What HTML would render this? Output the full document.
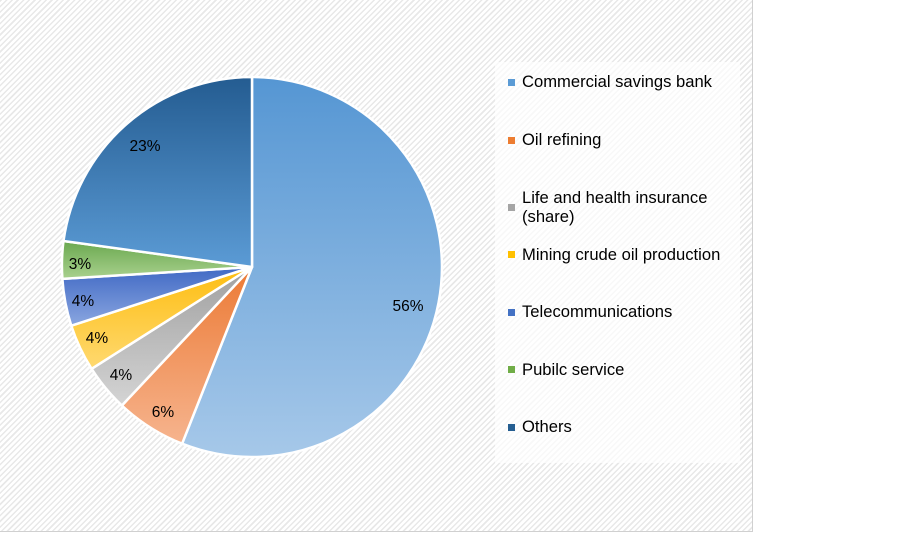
<!DOCTYPE html>
<html><head><style>
body{margin:0;background:#fff;}
#c{position:absolute;left:0;top:0;width:752px;height:531px;border-right:1px solid #d0d0d0;border-bottom:1px solid #d0d0d0;
background:repeating-linear-gradient(135deg,#e8e8e8 0 1.5px,#fff 1.5px 4px);}
.lg{position:absolute;left:495px;top:62px;width:245px;height:401px;background:rgba(255,255,255,0.7);}
.it{position:absolute;left:522px;font:16.6px "Liberation Sans",sans-serif;color:#000;line-height:19px;}
.m{position:absolute;left:508px;width:7px;height:7px;}
</style></head><body>
<div id="c"></div>
<svg width="903" height="533" style="position:absolute;left:0;top:0">
<defs>
<linearGradient id="g1" x1="0" y1="0" x2="0" y2="1"><stop offset="0" stop-color="#5596d3"/><stop offset="1" stop-color="#a6c8e9"/></linearGradient>
<linearGradient id="g2" x1="0" y1="0" x2="0" y2="1"><stop offset="0" stop-color="#ec7a35"/><stop offset="1" stop-color="#f6b48e"/></linearGradient>
<linearGradient id="g3" x1="0" y1="0" x2="0" y2="1"><stop offset="0" stop-color="#a0a0a0"/><stop offset="1" stop-color="#d4d4d4"/></linearGradient>
<linearGradient id="g4" x1="0" y1="0" x2="0" y2="1"><stop offset="0" stop-color="#fdbd10"/><stop offset="1" stop-color="#ffd970"/></linearGradient>
<linearGradient id="g5" x1="0" y1="0" x2="0" y2="1"><stop offset="0" stop-color="#4069c4"/><stop offset="1" stop-color="#8aa6e0"/></linearGradient>
<linearGradient id="g6" x1="0" y1="0" x2="0" y2="1"><stop offset="0" stop-color="#6aa84f"/><stop offset="1" stop-color="#a9d18e"/></linearGradient>
<linearGradient id="g7" x1="0" y1="0" x2="0" y2="1"><stop offset="0" stop-color="#245c91"/><stop offset="1" stop-color="#5b9bd5"/></linearGradient>
</defs>
<g stroke="#fff" stroke-width="2.5" stroke-linejoin="round">
<path d="M252,267 L252,77 A190,190 0 1 1 182.1,443.7 Z" fill="url(#g1)"/>
<path d="M252,267 L182.1,443.7 A190,190 0 0 1 121.9,405.5 Z" fill="url(#g2)"/>
<path d="M252,267 L121.9,405.5 A190,190 0 0 1 91.6,368.8 Z" fill="url(#g3)"/>
<path d="M252,267 L91.6,368.8 A190,190 0 0 1 71.3,325.7 Z" fill="url(#g4)"/>
<path d="M252,267 L71.3,325.7 A190,190 0 0 1 62.4,278.9 Z" fill="url(#g5)"/>
<path d="M252,267 L62.4,278.9 A190,190 0 0 1 63.5,241 Z" fill="url(#g6)"/>
<path d="M252,267 L63.5,241 A190,190 0 0 1 252,77 Z" fill="url(#g7)"/>
</g>
<g font-family="Liberation Sans,sans-serif" font-size="15.5" fill="#000" text-anchor="middle">
<text x="408" y="311">56%</text>
<text x="163" y="417">6%</text>
<text x="121" y="380">4%</text>
<text x="97" y="343">4%</text>
<text x="83" y="306">4%</text>
<text x="80" y="269">3%</text>
<text x="145" y="151">23%</text>
</g>
</svg>
<div class="lg"></div>
<div class="m" style="top:79px;background:#5b9bd5"></div><div class="it" style="top:72px">Commercial savings bank</div>
<div class="m" style="top:137px;background:#ed7d31"></div><div class="it" style="top:130px">Oil refining</div>
<div class="m" style="top:204px;background:#a5a5a5"></div><div class="it" style="top:188px">Life and health insurance<br>(share)</div>
<div class="m" style="top:251px;background:#ffc000"></div><div class="it" style="top:245px">Mining crude oil production</div>
<div class="m" style="top:309px;background:#4472c4"></div><div class="it" style="top:302px">Telecommunications</div>
<div class="m" style="top:366px;background:#70ad47"></div><div class="it" style="top:360px">Pubilc service</div>
<div class="m" style="top:424px;background:#255e91"></div><div class="it" style="top:417px">Others</div>
</body></html>
